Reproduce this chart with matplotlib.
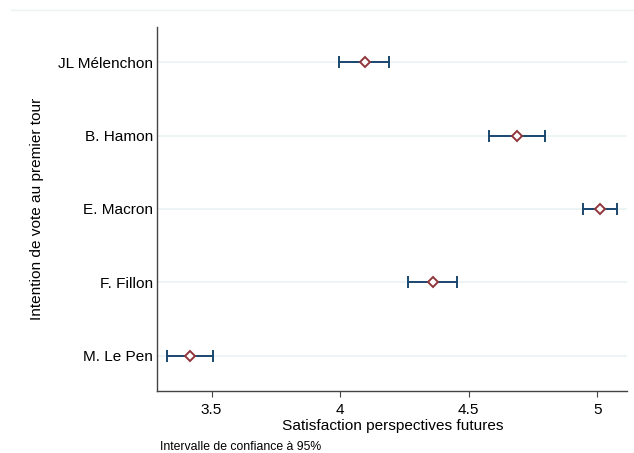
import matplotlib
matplotlib.use("Agg")
import matplotlib.pyplot as plt
from matplotlib.lines import Line2D

plt.rcParams['font.family'] = ['Liberation Sans', 'DejaVu Sans']

candidats = ['M. Le Pen', 'F. Fillon', 'E. Macron', 'B. Hamon', 'JL Mélenchon']
moyennes = [3.416, 4.36, 5.01, 4.687, 4.095]
ic_bas = [3.328, 4.264, 4.942, 4.578, 3.995]
ic_haut = [3.506, 4.453, 5.076, 4.796, 4.19]
xticks = [3.5, 4, 4.5, 5]

fig = plt.figure(figsize=(6.34, 4.53), dpi=100)
ax = fig.add_axes([0.2484, 0.1369, 0.7406, 0.8035])

pos = list(range(1, len(candidats) + 1))
for p in pos:
    ax.axhline(p, color='#eaf2f3', linewidth=1.2, zorder=0)

err = [[m - b for m, b in zip(moyennes, ic_bas)],
       [h - m for m, h in zip(moyennes, ic_haut)]]
ax.errorbar(moyennes, pos, xerr=err, fmt='none', ecolor='#1a476f',
            elinewidth=1.4, capsize=4, capthick=1.4, zorder=2)
ax.plot(moyennes, pos, linestyle='none', marker='D', markersize=5,
        markerfacecolor='white', markeredgecolor='#90353b',
        markeredgewidth=1.4, zorder=3)

ax.set_xlim(3.29, 5.115)
ax.set_ylim(0.52, 5.48)
ax.set_xticks(xticks)
ax.set_xticklabels(['3.5', '4', '4.5', '5'])
ax.set_yticks(pos)
ax.set_yticklabels(candidats)
ax.tick_params(axis='y', length=0, pad=3, labelsize=11.1)
ax.tick_params(axis='x', length=4, width=0.8, color='#444444', labelsize=11.1, pad=5)

for s in ['top', 'right']:
    ax.spines[s].set_visible(False)
for s in ['left', 'bottom']:
    ax.spines[s].set_color('#444444')
    ax.spines[s].set_linewidth(1.0)

ax.set_xlabel('Satisfaction perspectives futures', fontsize=11.1, labelpad=1)
ax.set_ylabel('Intention de vote au premier tour', fontsize=11.1, labelpad=10)

fig.text(0.253, 0.0, 'Intervalle de confiance à 95%', fontsize=8.8, ha='left', va='bottom')
fig.add_artist(Line2D([11 / 634, 1], [1 - 10 / 453, 1 - 10 / 453],
                      transform=fig.transFigure, color='#eaf2f3', linewidth=1))

fig.savefig('out.png', dpi=100)
